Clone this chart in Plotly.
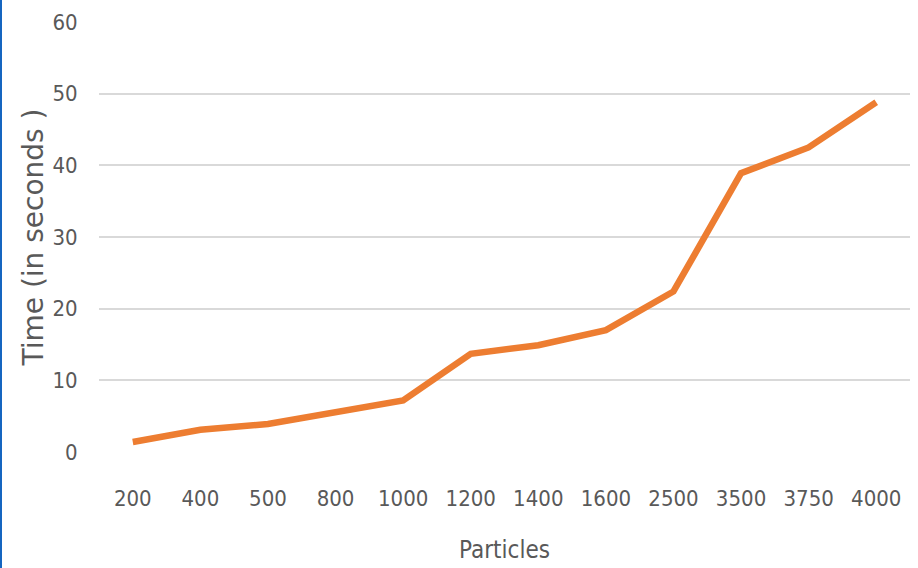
import plotly.graph_objects as go

particles = ["200", "400", "500", "800", "1000", "1200", "1400", "1600", "2500", "3500", "3750", "4000"]
time_seconds = [1.4, 3.1, 3.9, 5.6, 7.2, 13.7, 14.9, 17.0, 22.4, 38.9, 42.5, 48.8]
y_ticks = [0, 10, 20, 30, 40, 50, 60]

fig = go.Figure()
fig.add_trace(go.Scatter(
    x=particles, y=time_seconds, mode="lines",
    line=dict(color="#ED7D31", width=6.5),
    hoverinfo="skip", showlegend=False,
))

cond = "DejaVu Sans Condensed, Liberation Sans Narrow, sans-serif"
tick_font = dict(family=cond, size=22, color="#595959")

fig.update_layout(
    width=918, height=568,
    margin=dict(l=99, r=8, t=22, b=116),
    paper_bgcolor="white", plot_bgcolor="white",
    xaxis=dict(
        type="category", range=[-0.5, 11.5], tickfont=tick_font,
        showgrid=False, showline=False, zeroline=False,
        ticks="outside", ticklen=27, tickcolor="rgba(0,0,0,0)",
        title=dict(text="Particles", font=dict(family=cond, size=24, color="#595959"), standoff=30),
        automargin=False,
    ),
    yaxis=dict(
        range=[0, 60], tickvals=y_ticks, tickfont=tick_font,
        showgrid=True, gridcolor="#D9D9D9", gridwidth=2,
        zeroline=False, showline=False,
        ticks="outside", ticklen=16, tickcolor="rgba(0,0,0,0)",
        title=dict(text="Time (in seconds )", font=dict(family="DejaVu Sans, sans-serif", size=28, color="#595959"), standoff=0),
        automargin=False,
    ),
    shapes=[dict(type="line", xref="paper", yref="paper", x0=-99/811, x1=-99/811, y0=-116/430, y1=22/430+1,
                 line=dict(color="#1565C0", width=4))],
)

fig.write_html("out.html")
